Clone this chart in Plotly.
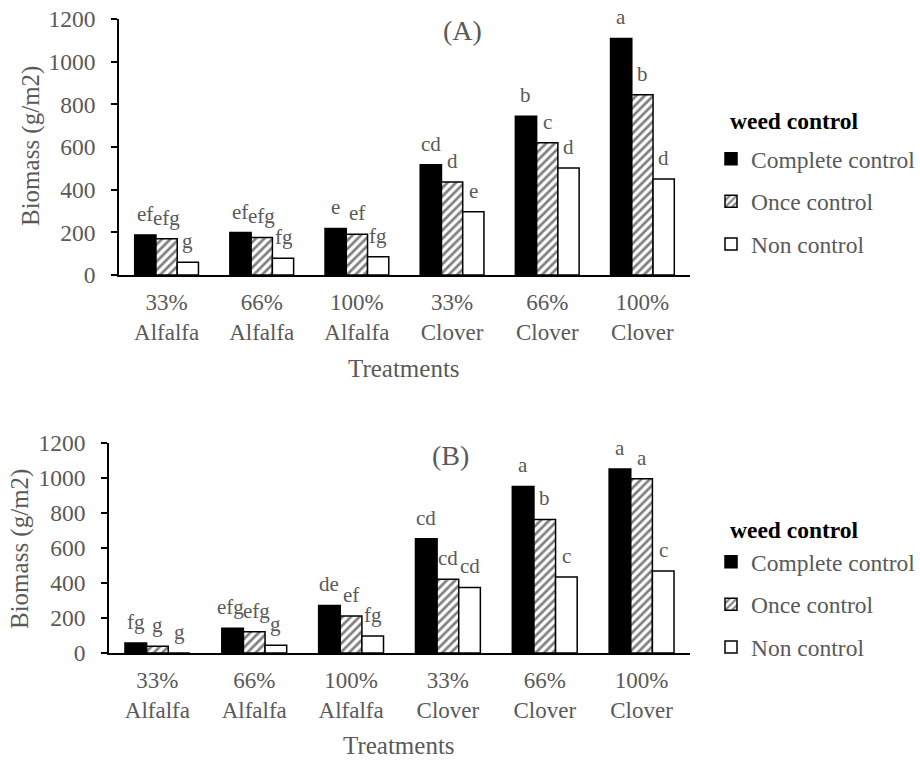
import plotly.graph_objects as go

# Treatment categories (two-line tick labels)
categories = ["33%<br>Alfalfa", "66%<br>Alfalfa", "100%<br>Alfalfa",
              "33%<br>Clover", "66%<br>Clover", "100%<br>Clover"]
series_names = ["Complete control", "Once control", "Non control"]

# Panel (A): biomass in g/m2 and mean-separation letters
biomass_a_complete = [188, 199, 218, 517, 744, 1109]
biomass_a_once = [170, 176, 191, 436, 620, 845]
biomass_a_non = [60, 79, 86, 297, 502, 450]
letters_a_complete = ["ef", "ef", "e", "cd", "b", "a"]
letters_a_once = ["efg", "efg", "ef", "d", "c", "b"]
letters_a_non = ["g", "fg", "fg", "e", "d", "d"]

# Panel (B): biomass in g/m2 and mean-separation letters
biomass_b_complete = [57, 141, 272, 653, 952, 1051]
biomass_b_once = [39, 121, 211, 422, 763, 996]
biomass_b_non = [0, 44, 97, 375, 434, 468]
letters_b_complete = ["fg", "efg", "de", "cd", "a", "a"]
letters_b_once = ["g", "efg", "ef", "cd", "b", "a"]
letters_b_non = ["g", "g", "fg", "cd", "c", "c"]

y_ticks = [0, 200, 400, 600, 800, 1000, 1200]

W, H = 920, 761
SERIF = "Liberation Serif"
GREY = "#595959"
BARGAP = 0.33
LETTER_SIZE = 21

# approximate advance widths (em) of the serif lowercase letters used
GLYPH_EM = {"a": 0.444, "b": 0.5, "c": 0.444, "d": 0.5, "e": 0.444,
            "f": 0.333, "g": 0.5}


def px_x(p):
    return p / W


def px_y(p):
    return 1 - p / H


def text_width(s):
    return sum(GLYPH_EM.get(ch, 0.5) for ch in s) * LETTER_SIZE


def spread_labels(centres, labels, passes=4):
    """Nudge neighbouring labels apart where their text would collide."""
    xs = list(centres)
    for _ in range(passes):
        for i in range(len(xs) - 1):
            overlap = (xs[i] + text_width(labels[i]) / 2) - \
                      (xs[i + 1] - text_width(labels[i + 1]) / 2)
            if overlap > 0:
                xs[i] -= overlap / 2
                xs[i + 1] += overlap / 2
    return xs


# fill style for each weed-control level
styles = [
    dict(color="black", line=dict(color="black", width=1.5)),
    dict(color="white", line=dict(color="black", width=1.5),
         pattern=dict(shape="/", fgcolor="black", bgcolor="white",
                      size=6, solidity=0.45)),
    dict(color="white", line=dict(color="black", width=1.5)),
]

panels = [
    dict(xa="x", ya="y", leg="legend", x_px=(119, 690), y_px=(275, 19),
         values=[biomass_a_complete, biomass_a_once, biomass_a_non],
         letters=[letters_a_complete, letters_a_once, letters_a_non]),
    dict(xa="x2", ya="y2", leg="legend2", x_px=(109, 690), y_px=(653, 443),
         values=[biomass_b_complete, biomass_b_once, biomass_b_non],
         letters=[letters_b_complete, letters_b_once, letters_b_non]),
]

fig = go.Figure()
letter_font = dict(family=SERIF, size=LETTER_SIZE, color=GREY)
for pi, p in enumerate(panels):
    n_series = len(series_names)
    cat_px = (p["x_px"][1] - p["x_px"][0]) / len(categories)
    bar_px = cat_px * (1 - BARGAP) / n_series
    for si, (name, vals, st) in enumerate(zip(series_names, p["values"], styles)):
        fig.add_trace(go.Bar(
            x=categories, y=vals, name=name,
            marker=st,
            xaxis=p["xa"], yaxis=p["ya"],
            legend=p["leg"], legendgroup=f"{name}-{pi}",
            hoverinfo="x+y+name",
        ))
    # significance letters over each bar, nudged apart where they would touch
    for ci, cat in enumerate(categories):
        labs = [p["letters"][si][ci] for si in range(n_series)]
        vals = [p["values"][si][ci] for si in range(n_series)]
        centres = [(si - (n_series - 1) / 2) * bar_px for si in range(n_series)]
        shifts = spread_labels(centres, labs)
        for lab, v, dx in zip(labs, vals, shifts):
            fig.add_annotation(
                x=cat, y=v, xref=p["xa"], yref=p["ya"], text=lab,
                showarrow=False, xanchor="center", yanchor="bottom",
                xshift=dx, yshift=7, font=letter_font,
            )

x_common = dict(
    type="category", showline=True, linecolor="black", linewidth=2,
    ticks="", showgrid=False, zeroline=False, automargin=False,
    tickfont=dict(family=SERIF, size=23, color=GREY),
    ticklabelstandoff=5,
)
y_common = dict(
    range=[0, 1200], tickvals=y_ticks, showline=True, linecolor="black",
    linewidth=1.5, ticks="outside", ticklen=6, tickcolor="black", tickwidth=1.5,
    showgrid=False, zeroline=False, automargin=False,
    tickfont=dict(family=SERIF, size=23.5, color=GREY),
    ticklabelstandoff=11,
)

legend_common = dict(
    xref="container", yref="container",
    xanchor="left", yanchor="top",
    font=dict(family=SERIF, size=23.5, color=GREY),
    tracegroupgap=9, bgcolor="rgba(0,0,0,0)", itemwidth=30,
)

fig.update_layout(
    width=W, height=H, margin=dict(l=0, r=0, t=0, b=0, autoexpand=False),
    paper_bgcolor="white", plot_bgcolor="white",
    barmode="group", bargap=BARGAP, bargroupgap=0,
    xaxis=dict(domain=[px_x(119), px_x(690)], anchor="y", **x_common),
    yaxis=dict(domain=[px_y(275), px_y(19)], anchor="x", **y_common),
    xaxis2=dict(domain=[px_x(109), px_x(690)], anchor="y2", **x_common),
    yaxis2=dict(domain=[px_y(653), px_y(443)], anchor="x2", **y_common),
    legend=dict(x=px_x(711), y=px_y(137), **legend_common),
    legend2=dict(x=px_x(711), y=px_y(540), **legend_common),
    showlegend=True,
)

axis_title_font = dict(family=SERIF, size=25, color=GREY)
annotations = [
    dict(text="Biomass (g/m2)", x=px_x(31), y=px_y(146), textangle=-90),
    dict(text="Biomass (g/m2)", x=px_x(20), y=px_y(549), textangle=-90),
    dict(text="Treatments", x=px_x(404), y=px_y(369)),
    dict(text="Treatments", x=px_x(399), y=px_y(745)),
]
for a in annotations:
    fig.add_annotation(xref="paper", yref="paper", showarrow=False,
                       xanchor="center", yanchor="middle",
                       font=axis_title_font, **a)

# legend headings
legend_title_font = dict(family=SERIF, size=23.5, color="black")
for ty in (121, 530):
    fig.add_annotation(text="<b>weed control</b>", xref="paper", yref="paper",
                       x=px_x(728), y=px_y(ty), xanchor="left", yanchor="middle",
                       showarrow=False, font=legend_title_font)

panel_tag_font = dict(family=SERIF, size=28, color=GREY)
fig.add_annotation(text="(A)", xref="paper", yref="paper", x=px_x(462), y=px_y(31),
                   xanchor="center", yanchor="middle",
                   showarrow=False, font=panel_tag_font)
fig.add_annotation(text="(B)", xref="paper", yref="paper", x=px_x(450), y=px_y(455),
                   xanchor="center", yanchor="middle",
                   showarrow=False, font=panel_tag_font)

fig.write_html("out.html")
